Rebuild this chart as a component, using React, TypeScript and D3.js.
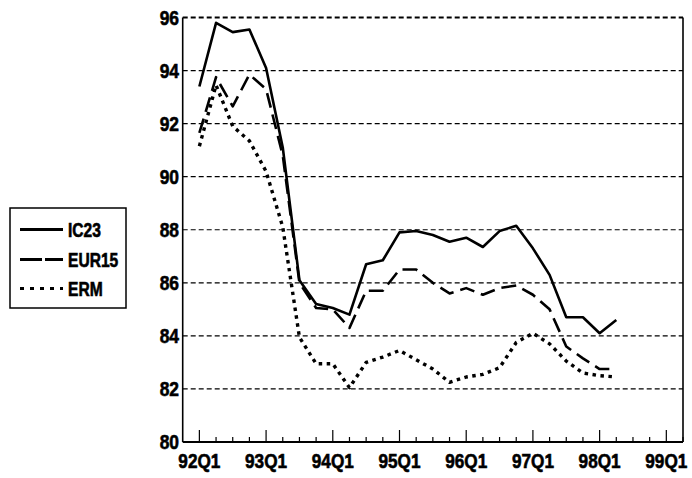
import React from "react";
import * as d3 from "d3";

const quarters = ["92Q1","92Q2","92Q3","92Q4","93Q1","93Q2","93Q3","93Q4","94Q1","94Q2","94Q3","94Q4","95Q1","95Q2","95Q3","95Q4","96Q1","96Q2","96Q3","96Q4","97Q1","97Q2","97Q3","97Q4","98Q1","98Q2"];
const ic23 = [93.4,95.8,95.45,95.55,94.1,91.1,86.1,85.2,85.05,84.8,86.7,86.85,87.9,87.95,87.8,87.55,87.7,87.35,87.95,88.15,87.3,86.3,84.7,84.7,84.1,84.6];
const eur15 = [91.65,93.75,92.65,93.85,93.3,90.8,86.0,85.05,85.0,84.3,85.7,85.7,86.5,86.5,86.0,85.6,85.8,85.55,85.8,85.9,85.55,85.0,83.6,83.15,82.75,82.75];
const erm = [91.15,93.45,91.9,91.35,90.2,88.1,83.95,82.95,82.95,82.05,83.0,83.2,83.45,83.1,82.75,82.25,82.45,82.55,82.8,83.75,84.1,83.7,83.05,82.6,82.5,82.45];
const xTickLabels = ["92Q1","93Q1","94Q1","95Q1","96Q1","97Q1","98Q1","99Q1"];
const yTicks = [80,82,84,86,88,90,92,94,96];
const seriesNames = ["IC23","EUR15","ERM"];

const FONT = "'Liberation Sans', Arial, sans-serif";

export default function App() {
  const W = 692, H = 478;
  const left = 182.7, right = 683, top = 17.5, bottom = 442;
  // index -1 = 91Q4, 29 = 99Q2
  const x = d3.scaleLinear().domain([-1, 29]).range([left, right]);
  const y = d3.scaleLinear().domain([80, 96]).range([bottom, top]);
  const line = d3.line<number>().x((_, i) => x(i)).y(d => y(d));

  const series = [
    { name: seriesNames[0], data: ic23, dash: undefined as string | undefined, w: 2.6 },
    { name: seriesNames[1], data: eur15, dash: "15,7", w: 2.6 },
    { name: seriesNames[2], data: erm, dash: "3.5,4.5", w: 3.4 },
  ];

  const minorIdx = d3.range(0, 30);
  const legendRows = [229.5, 259.5, 288.5];
  const legendDash = [undefined, "22,3", "4,6"];

  return (
    <svg width={W} height={H} style={{ position: "absolute", left: 0, top: 0, background: "#fff" }}>
      <rect x={0} y={0} width={W} height={H} fill="#fff" />
      {/* grid */}
      {yTicks.filter(t => t > 80).map(t => (
        <line key={"g" + t} x1={left} x2={right} y1={y(t)} y2={y(t)} stroke="#000"
          strokeWidth={t === 96 ? 1.8 : 1.2} strokeDasharray="5,3" />
      ))}
      {/* axes */}
      <line x1={left} x2={left} y1={top} y2={bottom} stroke="#000" strokeWidth={1.6} />
      <line x1={right} x2={right} y1={top} y2={bottom} stroke="#000" strokeWidth={1.6} />
      <line x1={left} x2={right} y1={bottom} y2={bottom} stroke="#000" strokeWidth={1.8} />
      {/* x ticks */}
      {minorIdx.map(i => (
        <line key={"t" + i} x1={x(i)} x2={x(i)} y1={bottom} y2={bottom - (i % 4 === 0 ? 12 : 5)}
          stroke="#000" strokeWidth={1.2} />
      ))}
      {/* y labels */}
      {yTicks.map(t => (
        <text key={"yl" + t} transform={`translate(179,${y(t) + 7}) scale(0.87,1)`} textAnchor="end"
          fontFamily={FONT} fontWeight="bold" fontSize={20} fill="#000" stroke="#000" strokeWidth={0.6}>{t}</text>
      ))}
      {/* x labels */}
      {xTickLabels.map((lab, k) => (
        <text key={"xl" + lab} transform={`translate(${x(k * 4)},468) scale(0.86,1)`} textAnchor="middle"
          fontFamily={FONT} fontWeight="bold" fontSize={20} fill="#000" stroke="#000" strokeWidth={0.6}>{lab}</text>
      ))}
      {/* series */}
      {series.map(s => (
        <path key={s.name} d={line(s.data) || ""} fill="none" stroke="#000" strokeWidth={s.w}
          strokeDasharray={s.dash} strokeLinejoin="round" />
      ))}
      {/* legend */}
      <rect x={10} y={208} width={116} height={100} fill="#fff" stroke="#000" strokeWidth={1.5} />
      {series.map((s, k) => (
        <g key={"lg" + s.name}>
          <line x1={20} x2={63} y1={legendRows[k]} y2={legendRows[k]} stroke="#000" strokeWidth={3.2}
            strokeDasharray={legendDash[k]} />
          <text transform={`translate(68,${legendRows[k] + 7}) scale(0.78,1)`} fontFamily={FONT}
            fontWeight="bold" fontSize={20} fill="#000" stroke="#000" strokeWidth={0.6}>{s.name}</text>
        </g>
      ))}
    </svg>
  );
}
